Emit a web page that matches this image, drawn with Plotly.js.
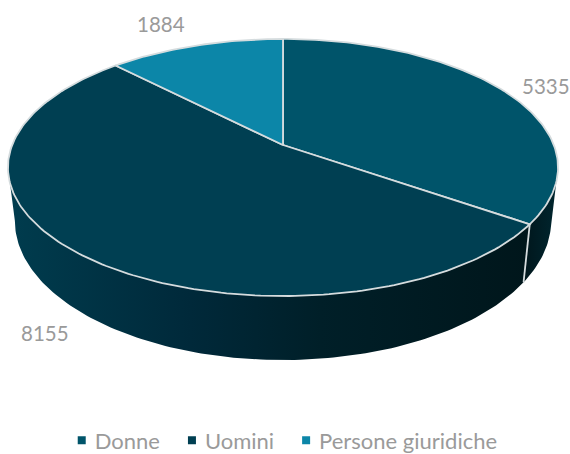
<!DOCTYPE html>
<html>
<head>
<meta charset="utf-8">
<script src="https://cdn.plot.ly/plotly-3.0.1.min.js"></script>
<style>html,body{margin:0;padding:0;background:#fff;overflow:hidden}#chart{width:570px;height:454px}</style>
</head>
<body>
<div id="chart"></div>
<script>
// Data
const categories = ["Donne", "Uomini", "Persone giuridiche"];
const values = [5335, 8155, 1884];
const topColors = ["#00546A", "#003F52", "#0C86A8"];
const legendColors = ["#00546A", "#003F52", "#0C86A8"];

// Perspective disc geometry (pixel-scale axes)
const K = 0.175;
const TOP = {cx: 283, cy: 145, rx: 270.8, ry: 124.6};
const BOT = {cx: 283, cy: 196.4, rx: 264, ry: 135};
const rad = d => d * Math.PI / 180;
function proj(g, deg) {
  const u = Math.sin(rad(deg)), v = Math.cos(rad(deg)), w = 1 + K * v;
  return [g.cx + g.rx * u / w, g.cy - g.ry * v / w];
}
function arc(g, a, b) {
  const n = Math.max(4, Math.ceil(Math.abs(b - a))), out = [];
  for (let i = 0; i <= n; i++) out.push(proj(g, a + (b - a) * i / n));
  return out;
}
const total = values.reduce((s, v) => s + v, 0);
let run = 0;
const bounds = values.map(v => { const a = run; run += v / total * 360; return [a, run]; });

// silhouette angles of the disc: where the rim is widest
const tangent = 180 - Math.asin(Math.sqrt(1 - K * K)) * 180 / Math.PI;
const rightEdge = tangent, leftEdge = 360 - tangent;

function sidePoly(a, b) {
  const t = arc(TOP, a, b), m = arc(BOT, b, a);
  const pts = t.concat(m); pts.push(t[0]);
  return pts;
}
const traces = [];
const sideSpecs = [
  {a: rightEdge, b: bounds[0][1], scale: [[0, "#00161C"], [1, "#00262F"]]},
  {a: bounds[1][0], b: leftEdge, scale: [[0, "#003C4E"], [0.35, "#00293A"], [0.6, "#001F28"], [1, "#00161B"]]}
];
sideSpecs.forEach(s => {
  const p = sidePoly(s.a, s.b);
  traces.push({
    type: "scatter", mode: "lines", x: p.map(q => q[0]), y: p.map(q => q[1]),
    fill: "toself", fillgradient: {type: "horizontal", colorscale: s.scale},
    line: {width: 0, color: "rgba(0,0,0,0)"}, showlegend: false, hoverinfo: "skip"
  });
});
// seam between the two visible side faces
const seam = [proj(TOP, bounds[0][1]), proj(BOT, bounds[0][1])];
traces.push({type: "scatter", mode: "lines", x: seam.map(q => q[0]), y: seam.map(q => q[1]),
  line: {color: "#D5DCDE", width: 1.8}, showlegend: false, hoverinfo: "skip"});
// top face slices
bounds.forEach((b, i) => {
  const p = [[TOP.cx, TOP.cy]].concat(arc(TOP, b[0], b[1]));
  p.push(p[0]);
  traces.push({
    type: "scatter", mode: "lines", x: p.map(q => q[0]), y: p.map(q => q[1]),
    fill: "toself", fillcolor: topColors[i], line: {color: "#D5DCDE", width: 1.8},
    name: categories[i], showlegend: false, hoverinfo: "skip"
  });
});
// legend entries
categories.forEach((c, i) => traces.push({
  type: "scatter", mode: "markers", x: [null], y: [null], name: c,
  marker: {symbol: "square", size: 8, color: legendColors[i]}
}));

const labelPos = [[546, 86], [161, 24], [45, 333]];
const labelOf = [0, 2, 1];
const font = {family: "Lato, Carlito, sans-serif", size: 20.5, color: "#9A9A9A"};
const layout = {
  width: 570, height: 454, margin: {l: 0, r: 0, t: 0, b: 0, autoexpand: false},
  paper_bgcolor: "#fff", plot_bgcolor: "#fff",
  xaxis: {range: [0, 570], visible: false, fixedrange: true},
  yaxis: {range: [454, 0], visible: false, fixedrange: true},
  font: font,
  legend: {orientation: "h", x: 0.489, xanchor: "center", y: 0.03, yanchor: "middle",
    font: {family: font.family, size: 22, color: font.color}, itemclick: false, itemdoubleclick: false},
  annotations: labelOf.map((k, i) => ({
    x: labelPos[i][0], y: labelPos[i][1], text: String(values[k]), showarrow: false, font: font
  }))
};
Plotly.newPlot("chart", traces, layout, {displayModeBar: false, staticPlot: true}).then(() => {
  // bring each legend swatch closer to its text
  document.querySelectorAll("#chart .legendsymbols").forEach(g => g.setAttribute("transform", "translate(7,0)"));
});
</script>
</body>
</html>
